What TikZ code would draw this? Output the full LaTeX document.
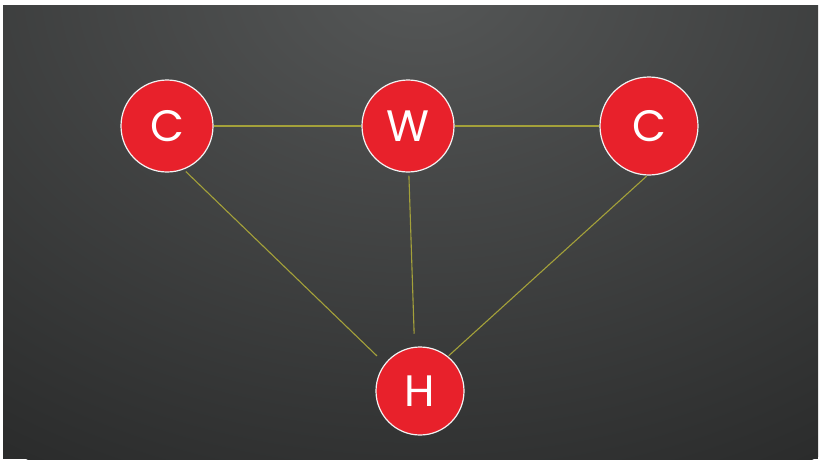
\documentclass[tikz,border=0pt]{standalone}
\usepackage{fontspec}
\setmainfont{Poppins}
\usepackage{tikz}
\definecolor{atomred}{HTML}{E8212B}
\definecolor{bondline}{HTML}{A4A13A}
\definecolor{bgtop}{HTML}{555757}
\definecolor{bgbot}{HTML}{2B2C2C}

\begin{document}
\begin{tikzpicture} [
    x=1pt, y=-1pt,
    atom/.style = {circle, draw=white!90!gray, line width=1.2pt, fill=atomred,
    text=white, minimum size=92pt, inner sep=0pt, font=\fontsize{44}{44}\selectfont},
    bond/.style = {draw=bondline, line width=1.1pt},
    node distance = 241pt
    ]
    \useasboundingbox (0,0) rectangle (821,461);
    \fill[white] (0,0) rectangle (821,461);
    \begin{scope}
    \clip (3,5) rectangle (818,459);
    \fill[bgbot] (3,5) rectangle (818,459);
    \shade[inner color=bgtop, outer color=bgbot] (420,-20) ellipse [x radius=760, y radius=560];
    \end{scope}

    \node[atom] (c1) at (167,126) {C};
    \node[atom, right of=c1] (w) {W};
    \node[atom, right of=w, minimum size=98pt] (c2) {C};
    \node[atom, below of=w, node distance=265pt, xshift=12pt, minimum size=88pt] (h) {H};

    \draw[bond] (c1) -- (w);
    \draw[bond] (w) -- (c2);
    \draw[bond, shorten <=3pt, shorten >=11pt] (c1.-69) -- (h.142);
    \draw[bond, shorten <=3pt, shorten >=13pt] (w.-89) -- (h.97);
    \draw[bond, shorten <=1pt, shorten >=1pt] (c2.-92) -- (h.51);

\end{tikzpicture}
\end{document}
